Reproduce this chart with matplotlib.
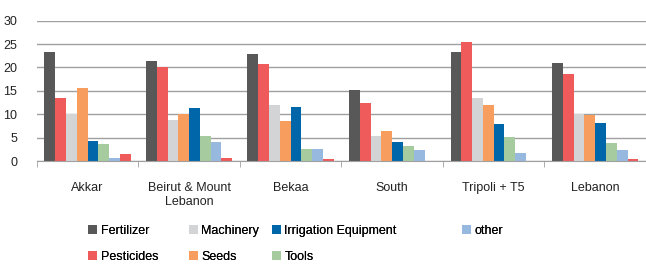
import matplotlib.pyplot as plt
import numpy as np

plt.rcParams['font.family'] = ['Liberation Sans', 'DejaVu Sans']

# data
regions = ['Akkar', 'Beirut & Mount\nLebanon', 'Bekaa', 'South', 'Tripoli + T5', 'Lebanon']
fertilizer = [23.4, 21.3, 22.8, 15.1, 23.2, 21.0]
pesticides = [13.4, 20.0, 20.8, 12.4, 25.4, 18.6]
machinery = [10.0, 8.7, 11.9, 5.5, 13.6, 10.0]
seeds = [15.6, 10.0, 8.6, 6.4, 11.9, 9.9]
irrigation = [4.3, 11.3, 11.5, 4.1, 7.9, 8.2]
tools = [3.6, 5.4, 2.6, 3.3, 5.2, 3.8]
other = [0.7, 4.1, 2.6, 2.4, 1.7, 2.4]
unlabeled = [1.5, 0.7, 0.4, 0.0, 0.0, 0.4]

series = [
    ('Fertilizer', fertilizer, '#585858'),
    ('Pesticides', pesticides, '#EF5A5B'),
    ('Machinery', machinery, '#D3D4D5'),
    ('Seeds', seeds, '#F79D5E'),
    ('Irrigation Equipment', irrigation, '#0066AA'),
    ('Tools', tools, '#A6CB9F'),
    ('other', other, '#97B9E0'),
    ('_nolegend_', unlabeled, '#EF5A5B'),
]

fig = plt.figure(figsize=(6.46, 2.64), dpi=100)
ax = fig.add_axes([0.057, 0.389, 0.943, 0.533])

x = np.arange(len(regions))
n = len(series)
w = 0.85 / n
handles = {}
for i, (name, vals, col) in enumerate(series):
    b = ax.bar(x - 0.425 + w * (i + 0.5), vals, w, color=col, label=name, zorder=3)
    handles[name] = b

ax.set_ylim(0, 30)
ax.set_xlim(-0.5, len(regions) - 0.5)
ax.set_yticks(range(0, 31, 5))
ax.grid(axis='y', color='#A0A0A0', linewidth=1, zorder=0)
for s in ['top', 'right', 'left']:
    ax.spines[s].set_visible(False)
ax.spines['bottom'].set_color('#A0A0A0')
ax.spines['bottom'].set_zorder(4)

ax.set_xticks(x)
ax.set_xticklabels(regions, fontsize=9, color='#222222')
ax.tick_params(axis='x', length=0, pad=15)
ax.set_xticks(np.arange(-0.5, len(regions), 1), minor=True)
ax.tick_params(axis='x', which='minor', length=4, color='#A0A0A0')
ax.tick_params(axis='y', length=0, pad=14, labelsize=9, labelcolor='#222222')

# legend in four columns like the original
cols = [(['Fertilizer', 'Pesticides'], 88),
        (['Machinery', 'Seeds'], 189),
        (['Irrigation Equipment', 'Tools'], 272),
        (['other'], 462)]
for names, px in cols:
    leg = fig.legend([handles[k] for k in names], names, loc='upper left',
                     bbox_to_anchor=(px / 646, 1 - 225 / 264), frameon=False,
                     fontsize=9, handlelength=0.7, handleheight=0.7,
                     handletextpad=0.3, labelspacing=1.1, borderpad=0,
                     borderaxespad=0)
    fig.add_artist(leg)

fig.savefig('out.png', dpi=100)
